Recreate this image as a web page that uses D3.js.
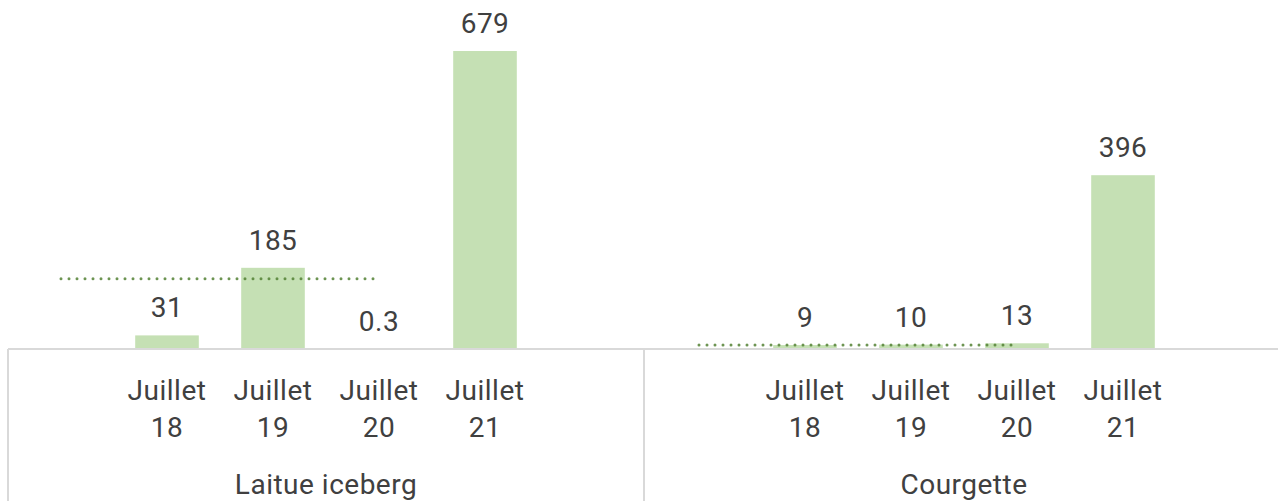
<!DOCTYPE html>
<html>
<head>
<meta charset="utf-8">
<script src="https://cdn.jsdelivr.net/npm/d3@7"></script>
<style>
	body { margin: 0; background: #fff; }
	text { font-family: Roboto, "Noto Sans", sans-serif; fill: #404040; letter-spacing: 0.5px; }
</style>
</head>
<body>
<div id="chart"></div>
<script>
// data
var groups = ["Laitue iceberg", "Courgette"];
var months = ["Juillet 18", "Juillet 19", "Juillet 20", "Juillet 21"];
var values = [
	[31, 185, 0.3, 679],
	[9, 10, 13, 396]
];
var valueLabels = [
	["31", "185", "0.3", "679"],
	["9", "10", "13", "396"]
];
var averages = [160, 9];   // dotted line

function init(){

	var w = 1278;
	var h = 501;
	var left = 8, right = 1280;
	var baseY = 349;

	var svg = d3.select("#chart")
				.append("svg")
				.attr("width", w)
				.attr("height", h);

	var groupScale = d3.scaleBand()
					.domain(groups)
					.range([left, right]);

	// 6 slots per group, months sit in slots 1..4
	var slotScale = d3.scaleBand()
					.domain(d3.range(6))
					.range([0, groupScale.bandwidth()])
					.paddingInner(0.4)
					.paddingOuter(0.2);

	var yScale = d3.scaleLinear()
					.domain([0, 679])
					.range([baseY, 51]);

	function slotCenter(slot){
		return slotScale(slot) + slotScale.bandwidth()/2;
	}

	var g = svg.selectAll("g.group")
		.data(groups)
		.enter()
		.append("g")
		.attr("class", "group")
		.attr("transform", function(d, i){ return "translate(" + (groupScale(d) + i*2) + ",0)"; });

	// bars
	g.selectAll("rect")
		.data(function(d, gi){ return values[gi].map(function(v, i){ return {v: v, i: i, gi: gi}; }); })
		.enter()
		.append("rect")
		.attr("x", function(d){ return slotScale(d.i + 1); })
		.attr("y", function(d){ return yScale(d.v); })
		.attr("width", slotScale.bandwidth())
		.attr("height", function(d){ return baseY - yScale(d.v); })
		.attr("fill", "#c5e0b4");

	// value labels
	g.selectAll("text.val")
		.data(function(d, gi){ return values[gi].map(function(v, i){ return {v: v, i: i, gi: gi}; }); })
		.enter()
		.append("text")
		.attr("class", "val")
		.text(function(d){ return valueLabels[d.gi][d.i]; })
		.attr("x", function(d){ return slotCenter(d.i + 1); })
		.attr("y", function(d){ return yScale(d.v) - 18; })
		.attr("text-anchor", "middle")
		.style("font-size", "28px");

	// average dotted line, slot 0 to slot 3
	g.append("line")
		.attr("x1", slotCenter(0))
		.attr("x2", slotCenter(3))
		.attr("y1", function(d, gi){ return yScale(averages[gi]); })
		.attr("y2", function(d, gi){ return yScale(averages[gi]); })
		.attr("stroke", "#548235")
		.attr("stroke-width", 3)
		.attr("stroke-linecap", "round")
		.attr("stroke-dasharray", "0 8")
		.attr("opacity", 0.85);

	// axis lines
	svg.append("line")
		.attr("x1", left).attr("x2", right)
		.attr("y1", baseY).attr("y2", baseY)
		.attr("stroke", "#d9d9d9")
		.attr("stroke-width", 2);

	svg.selectAll("line.sep")
		.data(groups.concat(["end"]))
		.enter()
		.append("line")
		.attr("class", "sep")
		.attr("x1", function(d, i){ return left + i*groupScale.bandwidth(); })
		.attr("x2", function(d, i){ return left + i*groupScale.bandwidth(); })
		.attr("y1", baseY).attr("y2", h)
		.attr("stroke", "#d9d9d9")
		.attr("stroke-width", 2);

	// month labels (two lines)
	var ml = g.selectAll("text.month")
		.data(months)
		.enter()
		.append("text")
		.attr("class", "month")
		.attr("text-anchor", "middle")
		.style("font-size", "28px");

	ml.append("tspan")
		.attr("x", function(d, i){ return slotCenter(i + 1); })
		.attr("y", 400)
		.text(function(d){ return d.split(" ")[0]; });

	ml.append("tspan")
		.attr("x", function(d, i){ return slotCenter(i + 1); })
		.attr("y", 437)
		.text(function(d){ return d.split(" ")[1]; });

	// group labels
	g.append("text")
		.text(function(d){ return d; })
		.attr("x", groupScale.bandwidth()/2)
		.attr("y", 494)
		.attr("text-anchor", "middle")
		.style("font-size", "28px");
}

window.onload = init;
</script>
</body>
</html>
